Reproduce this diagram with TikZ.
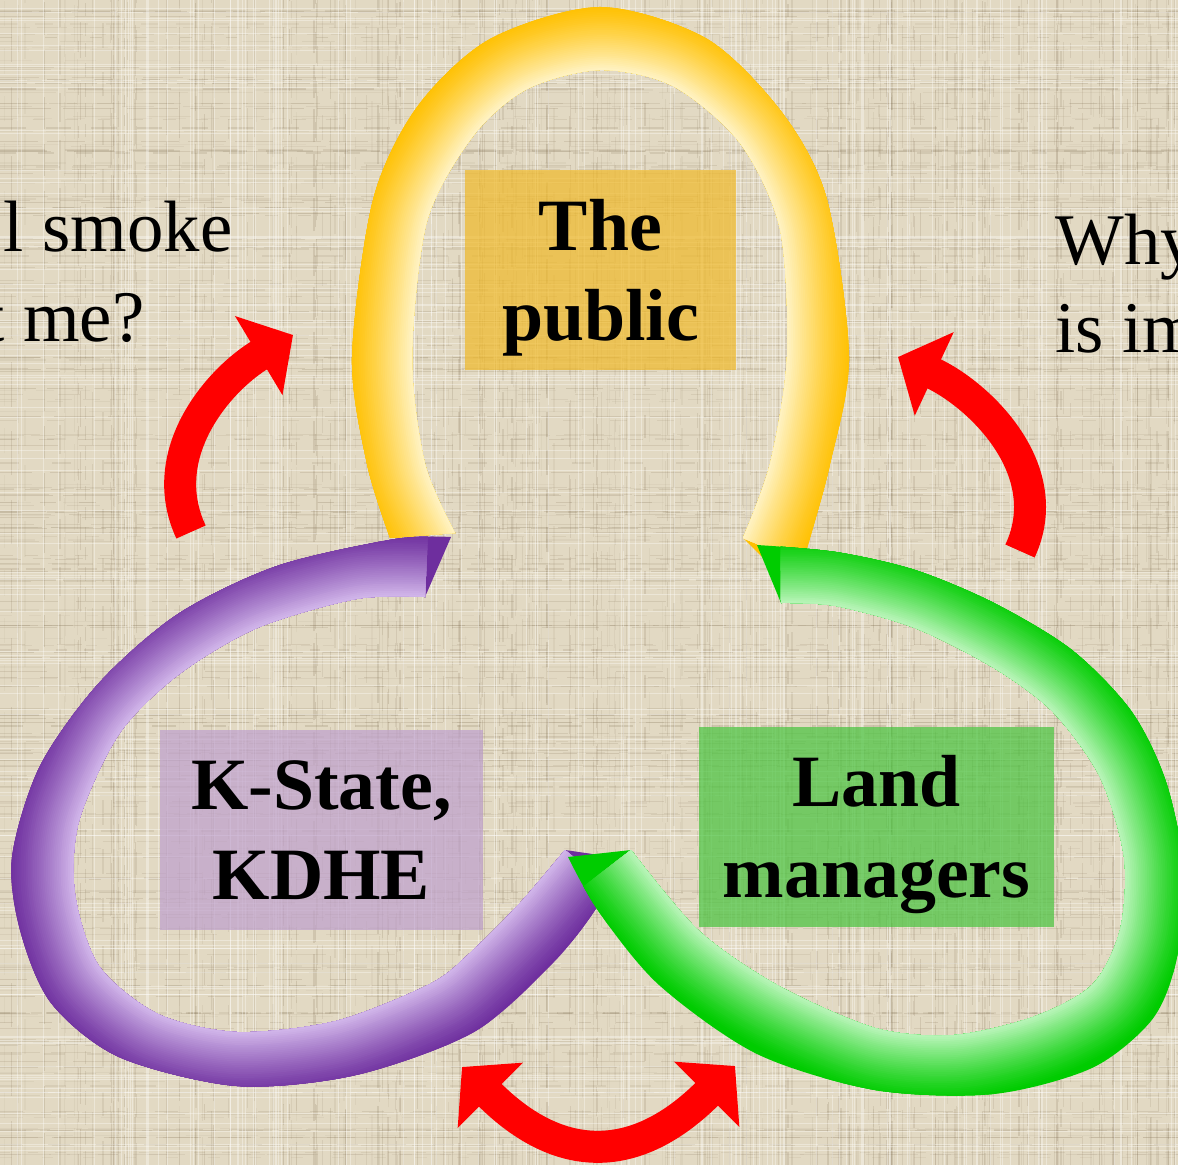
\documentclass[tikz,border=0pt]{standalone}
\usepackage{fontspec}
\setmainfont{Liberation Serif}
\usetikzlibrary{arrows.meta}

\definecolor{linen}{RGB}{226,217,195}
\definecolor{weave}{RGB}{130,112,84}
\definecolor{ydark}{RGB}{255,192,0}
\definecolor{ylight}{RGB}{255,244,200}
\definecolor{pdark}{RGB}{110,46,158}
\definecolor{plight}{RGB}{212,186,236}
\definecolor{gdark}{RGB}{0,204,0}
\definecolor{glight}{RGB}{190,246,190}
\definecolor{boxyellow}{RGB}{240,185,40}
\definecolor{boxpurple}{RGB}{190,160,205}
\definecolor{boxgreen}{RGB}{70,195,60}
\definecolor{arrowred}{RGB}{255,0,0}

% ribbon edges, 1 unit = 1 pixel
\def\yout{plot[smooth] coordinates {(390,627) (367,701) (352,808) (373,965) (417,1058) (490,1126) (600,1158) (707,1126) (783,1051) (827,965) (849,808) (830,701) (808,620) (795,575)}}
\def\yin{plot[smooth] coordinates {(743,627) (770,701) (787,808) (780,936) (740,1022) (673,1079) (600,1095) (527,1076) (473,1029) (427,944) (412,808) (425,701) (455,632)}}
\def\pout{plot[smooth] coordinates {(451,628) (395,626) (277,599) (178,551) (99,482) (40,399) (12,308) (20,235) (51,162) (119,108) (237,79) (356,90) (474,133) (553,202) (597,258) (620,307)}}
\def\pin{plot[smooth] coordinates {(565,315) (520,262) (470,212) (430,181) (336,144) (237,133) (158,151) (99,199) (75,271) (79,344) (119,431) (178,490) (257,537) (356,566) (425,568)}}
\def\gout{plot[smooth] coordinates {(757,620) (836,613) (915,595) (994,562) (1072,515) (1132,453) (1167,380) (1185,285) (1175,199) (1151,144) (1092,97) (994,71) (875,75) (757,111) (659,180) (599,253) (568,308)}}
\def\gin{plot[smooth] coordinates {(631,315) (698,235) (777,180) (875,137) (954,130) (1033,148) (1092,180) (1120,235) (1124,308) (1100,388) (1053,453) (994,497) (915,537) (836,559) (781,562)}}

% #1 outer edge, #2 inner edge, #3 dark, #4 light
\newcommand{\ribbon}[4]{%
  \begin{scope}
    \edef\ribbonclip{\noexpand\clip #1 -- #2 -- cycle;}%
    \ribbonclip
    \fill[#3] (0,0) rectangle (1178,1165);%
    \foreach \k in {1,...,35}{%
      \pgfmathtruncatemacro{\mix}{100*(\k/36)^1.2}%
      \draw[line width={(1-\k/36)*13.2mm}, draw=#4!\mix!#3] #2;%
    }
  \end{scope}}
\newcommand{\topstrut}{\rule{0pt}{0.9em}}

\tikzset{
  labelbox/.style={inner sep=0pt, fill opacity=0.7, text opacity=1,
    align=center, font=\bfseries\fontsize{21}{25.8}\selectfont},
  sidetext/.style={inner sep=0pt, font=\fontsize{20.7}{25.6}\selectfont},
  redarrow/.style={draw=arrowred, line width=3.2mm},
}

\begin{document}
\begin{tikzpicture}[x=0.1mm,y=0.1mm]
  \useasboundingbox (0,0) rectangle (1178,1165);
  \clip (0,0) rectangle (1178,1165);
  \fill[linen] (0,0) rectangle (1178,1165);
  %
  % woven background
  \pgfmathsetseed{4711}
  \foreach \i in {1,...,260}{%
    \pgfmathsetmacro{\tx}{rnd*1178}%
    \pgfmathsetmacro{\op}{0.05+0.15*rnd}%
    \pgfmathsetmacro{\da}{1+5*rnd}%
    \pgfmathsetmacro{\db}{0.5+3*rnd}%
    \draw[weave, line width=0.12mm, opacity=\op, dash pattern=on \da mm off \db mm] (\tx,0) -- (\tx,1165);%
  }
  \foreach \i in {1,...,260}{%
    \pgfmathsetmacro{\ty}{rnd*1165}%
    \pgfmathsetmacro{\op}{0.05+0.15*rnd}%
    \pgfmathsetmacro{\da}{1+5*rnd}%
    \pgfmathsetmacro{\db}{0.5+3*rnd}%
    \draw[weave, line width=0.12mm, opacity=\op, dash pattern=on \da mm off \db mm] (0,\ty) -- (1178,\ty);%
  }
  \foreach \i in {1,...,120}{%
    \pgfmathsetmacro{\tx}{rnd*1178}%
    \pgfmathsetmacro{\ty}{rnd*1165}%
    \draw[white, line width=0.1mm, opacity=0.35] (\tx,0) -- (\tx,1165);%
    \draw[white, line width=0.1mm, opacity=0.35] (0,\ty) -- (1178,\ty);%
  }
  %
  % the three loops
  \ribbon{\yout}{\yin}{ydark}{ylight}
  \ribbon{\pout}{\pin}{pdark}{plight}
  \ribbon{\gout}{\gin}{gdark}{glight}
  %
  \node[labelbox, fill=boxyellow, minimum width=27.1mm, minimum height=20mm] (public) at (600.5,895) {\topstrut The\\public};
  \node[labelbox, fill=boxpurple, minimum width=32.3mm, minimum height=20mm] (kstate) at (321.5,335) {K-State,\\KDHE};
  \node[labelbox, fill=boxgreen, minimum width=35.5mm, minimum height=20mm] (landmgr) at (876.5,338) {\topstrut Land\\managers};
  %
  \node[sidetext, anchor=base east] (smoke) at (233,913) {l smoke};
  \node[sidetext, anchor=base east] (affect) at (145,823) {t me?};
  \node[sidetext, anchor=base west] (why) at (1055,900) {Why};
  \node[sidetext, anchor=base west] (isim) at (1055,812) {is im};
  %
  % red arrows
  \coordinate (ltail) at (191,633);
  \coordinate (ltip) at (293,830);
  \coordinate (rtail) at (1020,614);
  \coordinate (rtip) at (898,808);
  \coordinate (bleft) at (462,98);
  \coordinate (bright) at (735,99);
  \draw[redarrow, -{Triangle[length=4mm,width=9mm]}] (ltail) to[out=115,in=211] (ltip);
  \draw[redarrow, -{Triangle[length=4mm,width=9mm]}] (rtail) to[out=65,in=-25] (rtip);
  \draw[redarrow, {Triangle[length=4mm,width=9mm]}-{Triangle[length=4mm,width=9mm]}] (bleft) to[out=-45,in=225,looseness=1.3] (bright);
\end{tikzpicture}
\end{document}
